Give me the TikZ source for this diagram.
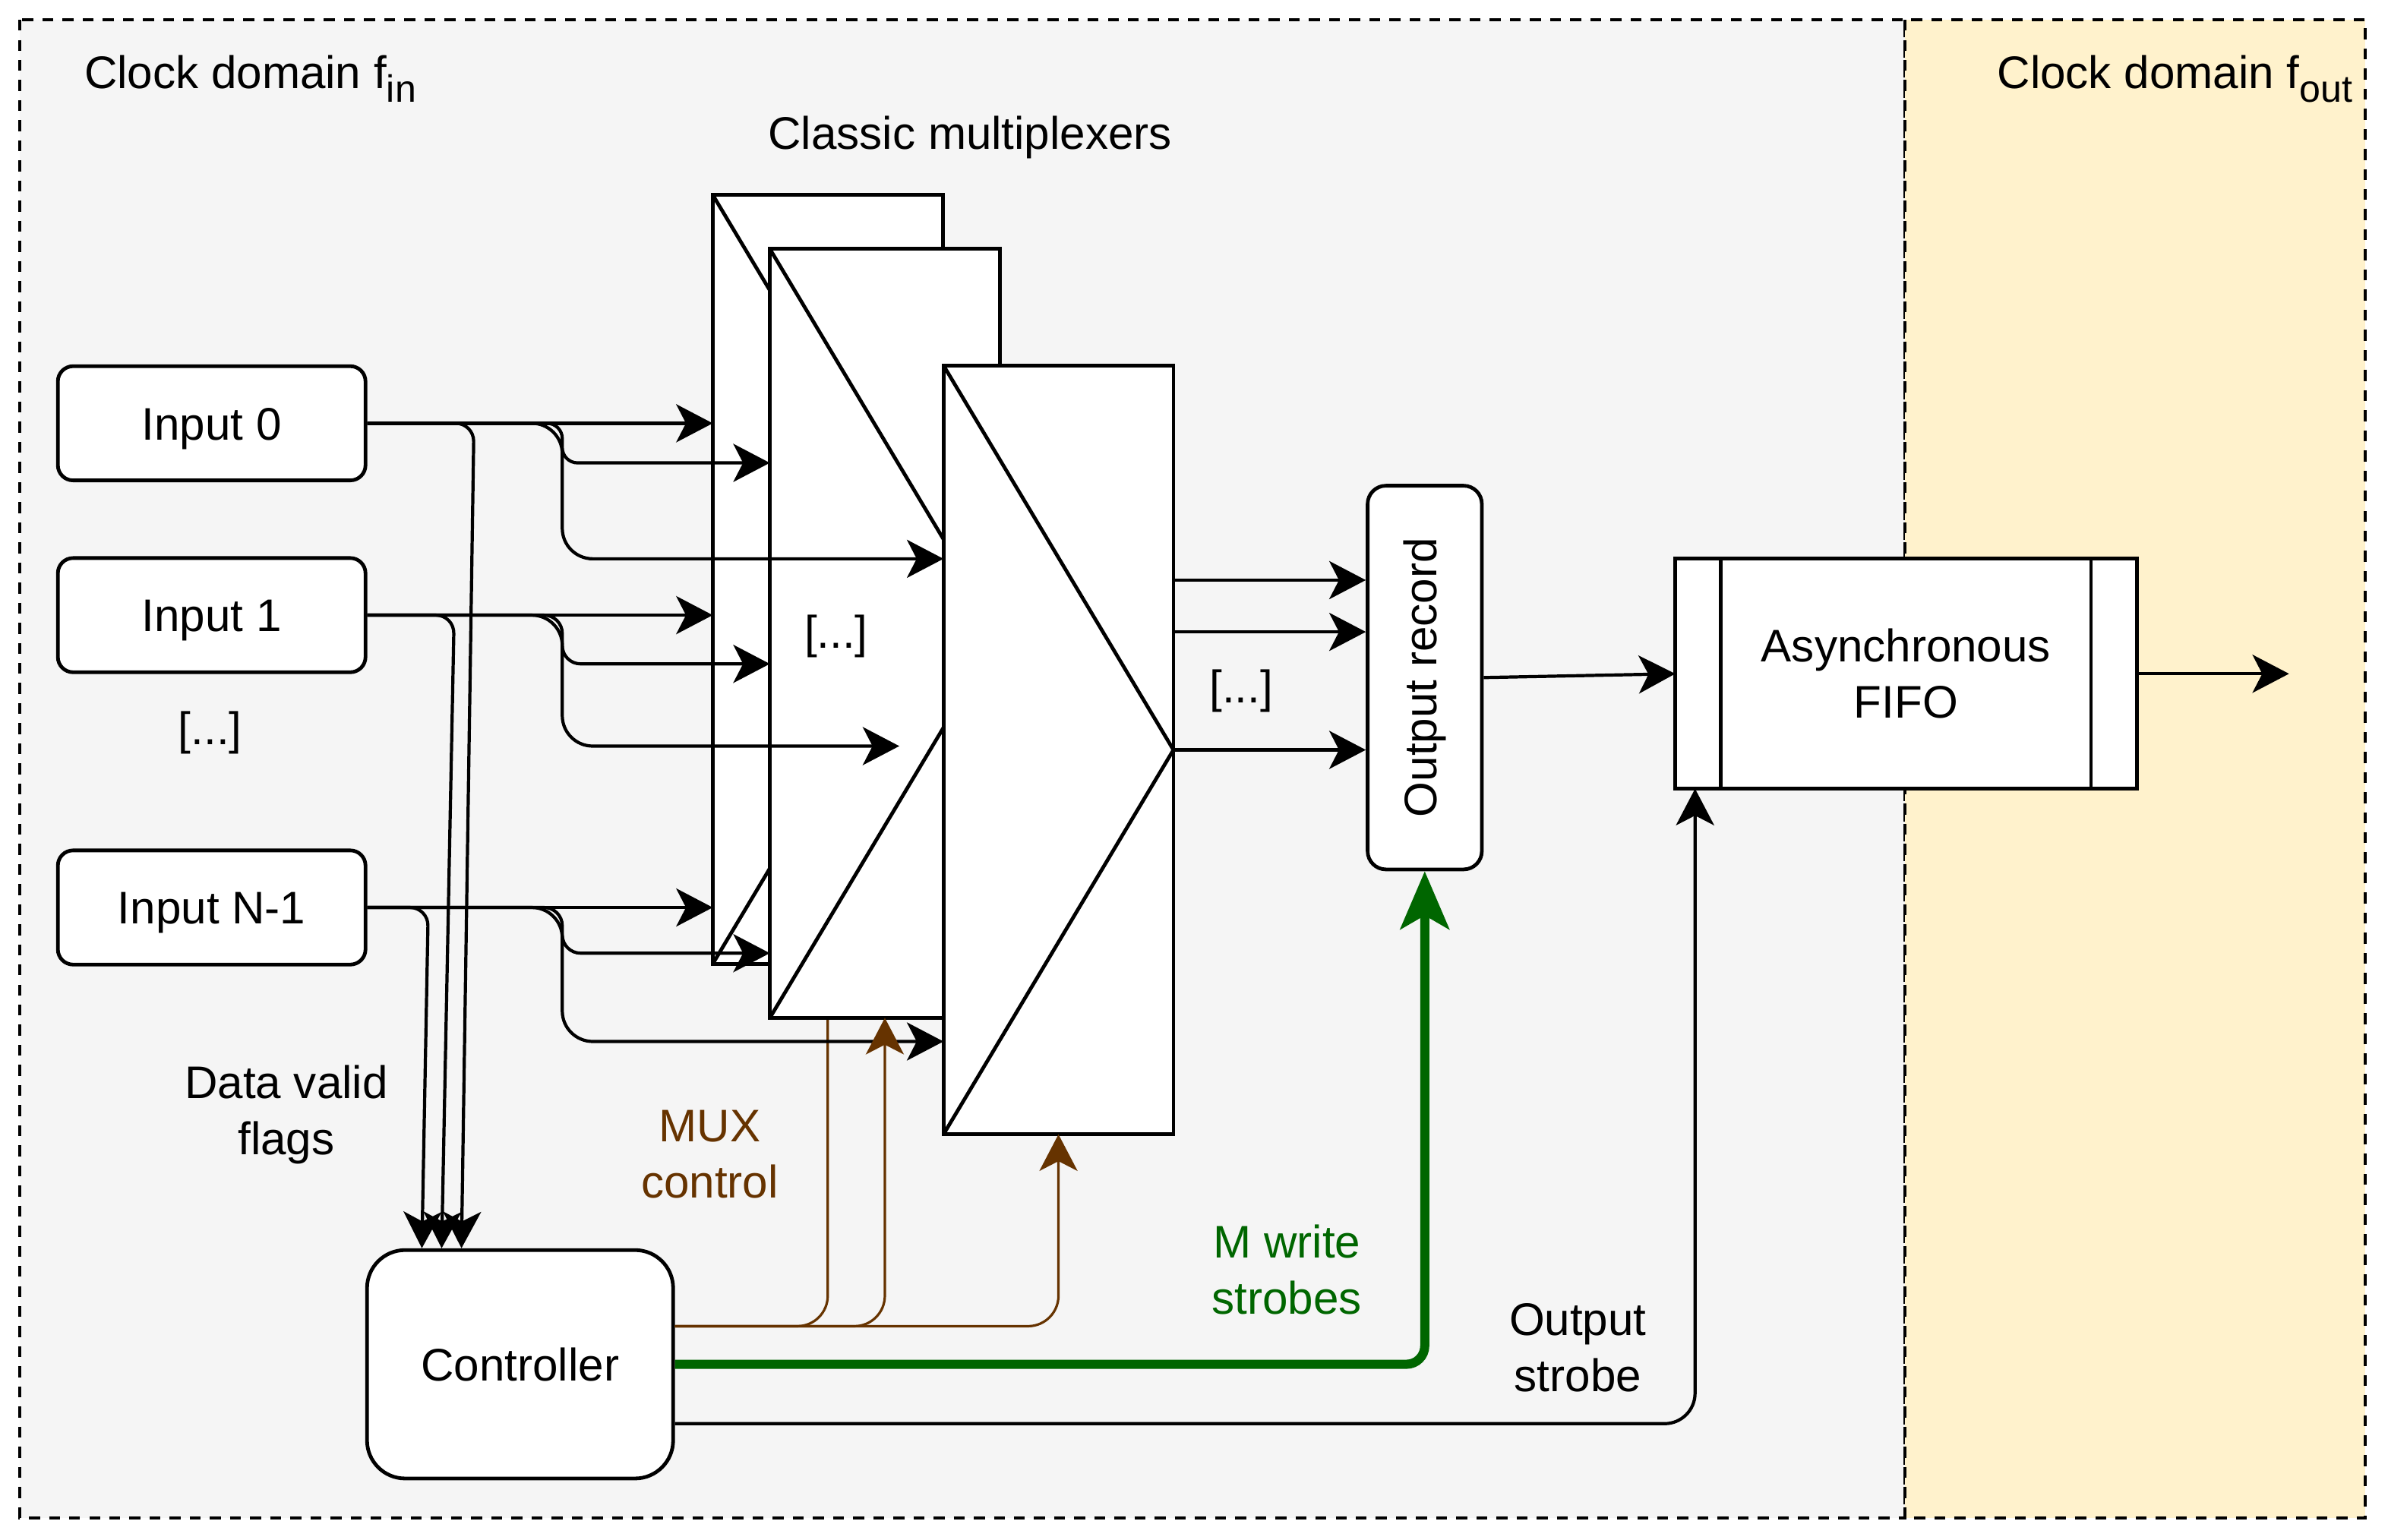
\documentclass[tikz,border=0pt]{standalone}
\usepackage{fontspec}
\setmainfont{Liberation Sans}
\usetikzlibrary{arrows.meta,calc}
\definecolor{domin}{HTML}{F5F5F5}
\definecolor{domout}{HTML}{FFF2CC}
\definecolor{muxbrown}{HTML}{663300}
\definecolor{wrgreen}{HTML}{006600}
\newcommand{\lowsub}[1]{\raisebox{-0.3em}{\fontsize{12.5pt}{13pt}\selectfont #1}}

\begin{document}
\begin{tikzpicture}[x=0.5pt,y=-0.5pt,font=\fontsize{15pt}{18.5pt}\selectfont,
	clkdomain/.style={draw,line width=1pt,dash pattern=on 3.6pt off 3pt},
	box/.style={draw,line width=1.2pt,fill=white,rounded corners=5pt,minimum width=101pt,minimum height=37.5pt,text height=10.8pt,text depth=0pt},
	muxbox/.style={draw,line width=1.2pt,fill=white,outer sep=0pt,minimum width=75.5pt,minimum height=252.5pt},
	arr/.style={line width=1.05pt,rounded corners=10pt,-{Stealth[length=12pt,width=12.5pt,inset=3.2pt]}},
	ctl/.style={arr,draw=muxbrown,line width=0.8pt},
	wr/.style={draw=wrgreen,line width=3pt,rounded corners=6pt,-{Stealth[length=19pt,width=16pt,inset=4.5pt]}}]
	\useasboundingbox (0,0) rectangle (1568,1011.4);
	\draw[clkdomain,fill=domin] (13,13) rectangle (1251,997);
	\draw[clkdomain,fill=domout] (1251,13) rectangle (1553,997);
	\node[anchor=base west,inner sep=0pt] at (55,58) {Clock domain f\lowsub{in}};
	\node[anchor=base east,inner sep=0pt] at (1545,58) {Clock domain f\lowsub{out}};
	\node (title) at (637,90) {Classic multiplexers};

	\node[box] (in0) at (139,278) {Input 0};
	\node[box] (in1) at (139,404) {Input 1};
	\node (indots) at (138,481) {[...]};
	\node[box] (inN) at (139,596) {Input N-1};
	\node[box,rounded corners=12.5pt,minimum width=100.5pt,minimum height=75pt] (ctrl) at (341.5,896) {Controller};

	\node[muxbox] (m1) at (543.5,380.5) {};
	\draw[line width=1.2pt] (m1.north west) -- (m1.east) -- (m1.south west);
	\draw[ctl] ($(ctrl.east)+(0,-25)$) -| (m1.south);
	\node[muxbox] (m2) at (581,416) {};
	\draw[line width=1.2pt] (m2.north west) -- (m2.east) -- (m2.south west);
	\node[muxbox] (m3) at (695,492.5) {};
	\draw[line width=1.2pt] (m3.north west) -- (m3.east) -- (m3.south west);
	\node (muxdots) at (549,418) {[...]};

	\node[draw,line width=1.2pt,fill=white,rounded corners=6pt,minimum width=37.5pt,minimum height=126pt] (rec) at (935.5,445) {\rotatebox{90}{Output record}};
	\node[draw,line width=1.2pt,fill=white,outer sep=0pt,align=center,minimum width=151.5pt,minimum height=75.5pt] (fifo) at (1251.5,442.5) {Asynchronous\\FIFO};
	\draw[line width=1.2pt] ($(fifo.north west)+(30,0)$) -- ($(fifo.south west)+(30,0)$);
	\draw[line width=1.2pt] ($(fifo.north east)+(-30,0)$) -- ($(fifo.south east)+(-30,0)$);

	\draw[arr] (in0.east) -- (in0.east -| m1.west);
	\draw[arr,rounded corners=5pt] (in0.east) -- ++(128,0) |- ($(m2.west)+(0,-112)$);
	\draw[arr] (in0.east) -- ++(128,0) |- ($(m3.west)+(0,-125.5)$);
	\draw[arr,rounded corners=6pt] (in0.east) -- ++(70,0) -- ($(ctrl.north)+(-38.5,0)$);

	\coordinate (stub1) at ($(m3.west)+(-29,-2.5)$);
	\draw[arr] (in1.east) -- (in1.east -| m1.west);
	\draw[arr,rounded corners=6pt] (in1.east) -- ++(128,0) |- ($(m2.west)+(0,20)$);
	\draw[arr] (in1.east) -- ++(128,0) |- (stub1);
	\draw[arr,rounded corners=6pt] (in1.east) -- ++(57,0) -- ($(ctrl.north)+(-51.5,0)$);

	\draw[arr] (inN.east) -- (inN.east -| m1.west);
	\draw[arr,rounded corners=6pt] (inN.east) -- ++(128,0) |- ($(m2.west)+(0,210)$);
	\draw[arr] (inN.east) -- ++(128,0) |- ($(m3.west)+(0,191.5)$);
	\draw[arr,rounded corners=6pt] (inN.east) -- ++(40,0) -- ($(ctrl.north)+(-64.5,0)$);

	\foreach \dy in {-111.5,-77.5,0} {
		\coordinate (o) at ($(m3.east)+(0,\dy)$);
		\draw[arr] (o) -- (o -| rec.west);
	}
	\node (outdots) at (815,454) {[...]};
	\draw[arr] (rec.east) -- (fifo.west);
	\draw[arr] (fifo.east) -- ++(100,0);

	\draw[ctl] ($(ctrl.east)+(0,-25)$) -| (m2.south);
	\draw[ctl] ($(ctrl.east)+(0,-25)$) -| (m3.south);
	\draw[wr] (ctrl.east) -| (rec.south);
	\draw[arr] ($(ctrl.east)+(0,39)$) -| ($(fifo.south west)+(13,0)$);

	\node[align=center] (dvf) at (188,732) {Data valid\\flags};
	\node[align=center,text=muxbrown] (muxc) at (466,758) {MUX\\control};
	\node[align=center,text=wrgreen] (mws) at (845,834) {M write\\strobes};
	\node[align=center] (ostr) at (1036,885) {Output\\strobe};
\end{tikzpicture}
\end{document}
